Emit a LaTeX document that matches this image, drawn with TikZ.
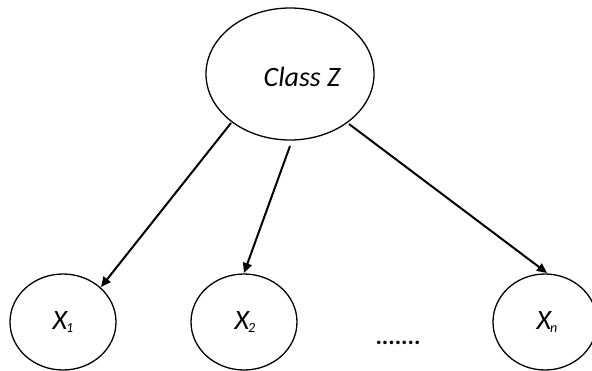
\documentclass[tikz,border=0pt]{standalone}
\usepackage{fontspec}
\setmainfont{Carlito}
\usetikzlibrary{arrows.meta,shapes.geometric}
\newcommand{\subix}[1]{\kern-0.04em\raisebox{-0.08em}{\fontsize{14}{16}\selectfont #1}}
\begin{document}
\begin{tikzpicture}[x=1pt,y=-1pt,
  var/.style={draw=black,line width=1.3pt,ellipse,inner sep=0pt},
  edge/.style={line width=2pt,-{Triangle[length=10pt,width=9pt]}},
  lab/.style={font=\fontsize{28}{32}\selectfont\itshape}]
\useasboundingbox (0,0) rectangle (592,370);
% class node and feature nodes
\node[var,minimum width=168pt,minimum height=132pt] (zc) at (290,74) {};
\node[var,minimum width=106pt,minimum height=96pt] (n1) at (63,322) {};
\node[var,minimum width=106pt,minimum height=96pt] (n2) at (244,322) {};
\node[var,minimum width=104pt,minimum height=96pt] (nn) at (545,322) {};
\node[lab] (z) at (302,77) {Class Z};
\node[lab] (l1) at (63,322) {X\subix{1}};
\node[lab] (l2) at (245,322) {X\subix{2}};
\node[lab] (ln) at (547,322) {X\subix{n}};
\node[font=\fontsize{24}{28}\selectfont\bfseries] (dots) at (398,343) {.......};
% end points of the edges
\coordinate (zl) at (231,123);
\coordinate (zm) at (290,146);
\coordinate (zr) at (349,124);
\coordinate (x1) at (101,287);
\coordinate (x2) at (244,273);
\coordinate (xn) at (547,273);
% edges from the class to each feature
\draw[edge] (zl) -- (x1);
\draw[edge] (zm) -- (x2);
\draw[edge] (zr) -- (xn);
\end{tikzpicture}
\end{document}
